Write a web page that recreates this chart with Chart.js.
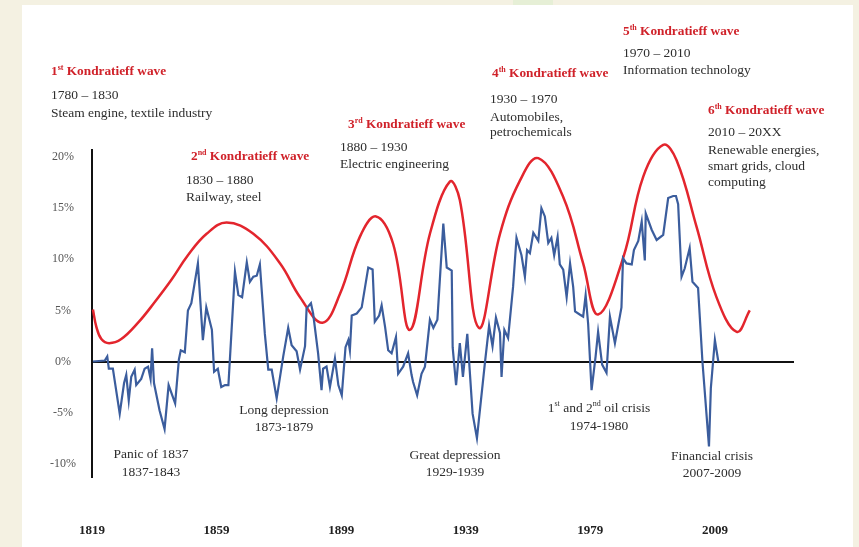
<!DOCTYPE html>
<html>
<head>
<meta charset="utf-8">
<script src="https://cdn.jsdelivr.net/npm/chart.js@4.4.1/dist/chart.umd.min.js"></script>
<style>
  html, body { margin: 0; padding: 0; background: #f4f1e2; }
  #wrap { position: relative; width: 859px; height: 547px; overflow: hidden; }
  #panel { position: absolute; left: 22px; top: 5px; width: 831px; height: 542px; background: #fff; }
  #tint { position: absolute; left: 513px; top: 0; width: 40px; height: 5px; background: #e6efd6; }
  #chart { position: absolute; left: 0; top: 0; }
</style>
</head>
<body>
<div id="wrap">
  <div id="panel"></div>
  <div id="tint"></div>
  <canvas id="chart" width="859" height="547"></canvas>
</div>
<script>
// growth rate (blue) - x positions follow the chart's own (evenly spaced) year axis
const growthYears = [1819.3,1823.1,1823.9,1824.4,1825.7,1827.9,1829.3,1830.0,1830.8,1831.6,
  1832.7,1833.2,1834.8,1835.9,1837.0,1837.8,1838.3,1838.9,1840.7,1842.3,
  1843.6,1845.7,1846.9,1847.5,1848.8,1849.8,1850.9,1853.0,1854.6,1855.7,
  1857.5,1858.2,1859.4,1860.5,1861.7,1862.8,1864.9,1866.0,1867.2,1868.7,
  1869.7,1870.8,1871.9,1872.9,1874.5,1875.6,1876.7,1878.3,1880.4,1882.0,
  1883.1,1884.7,1885.8,1887.4,1887.9,1889.3,1890.0,1891.6,1892.7,1893.2,
  1894.3,1895.4,1897.0,1898.1,1899.2,1900.4,1901.3,1901.8,1902.4,1904.0,
  1905.6,1907.7,1909.1,1909.8,1911.2,1912.0,1913.1,1914.1,1915.2,1916.6,
  1917.3,1918.9,1920.5,1921.6,1922.1,1923.4,1924.8,1925.9,1927.5,1928.6,
  1929.9,1931.8,1932.9,1934.5,1934.8,1935.9,1937.1,1938.1,1939.5,1941.2,
  1942.6,1945.2,1946.5,1947.6,1948.7,1950.0,1950.5,1951.4,1952.6,1954.2,
  1955.3,1956.9,1958.0,1958.7,1959.6,1960.7,1962.3,1963.3,1964.4,1965.5,
  1966.5,1967.4,1968.5,1969.2,1970.3,1971.4,1972.5,1973.5,1974.1,1975.6,
  1976.7,1977.5,1978.3,1979.4,1980.7,1981.5,1982.8,1984.2,1985.3,1986.9,
  1989.0,1989.5,1990.6,1992.3,1993.0,1994.4,1995.5,1996.5,1996.8,1998.7,
  2000.3,2002.4,2004.0,2005.6,2006.5,2007.2,2008.3,2009.3,2010.9,2011.8,
  2013.6,2015.0,2017.1,2017.7,2019.0,2020.1]
const growthValues = [0,0.1,0.5,-0.7,-0.7,-5.1,-2.1,-1.3,-3.8,-1.5,
  -0.8,-2.3,-1.7,-0.7,-0.5,-1.7,1.3,-2.1,-4.8,-6.6,
  -2.3,-4.1,0.2,1.1,0.9,5.0,5.7,9.6,2.1,5.3,
  3.1,-1.0,-0.7,-2.5,-2.3,-2.3,8.8,6.5,6.3,9.7,
  7.8,8.3,8.4,9.5,2.7,-0.8,-0.8,-3.6,0.5,3.3,
  1.6,1.0,-0.8,1.5,5.2,5.7,4.7,0.8,-2.8,-0.7,
  -0.5,-2.5,0.3,-2.3,-3.3,1.4,2.1,1.1,4.5,4.7,
  5.3,9.2,9.0,3.9,4.5,5.5,3.4,1.1,0.8,2.4,
  -1.2,-0.5,0.8,-1.3,-2.0,-3.3,-1.2,-0.5,4.1,3.3,
  4.1,13.5,9.2,8.9,1.4,-2.3,1.8,-1.5,2.7,-5.1,
  -7.5,0,3.5,1.5,4.3,2.8,-1.5,3.1,2.3,7.3,
  12.1,10.4,8.3,10.9,10.6,12.6,11.8,15.0,14.2,11.6,
  12.1,10.4,12.2,9.5,9.0,6.3,9.6,7.3,4.9,4.6,
  4.4,6.5,3.7,-2.8,0.5,2.9,-0.3,-1.1,4.4,1.8,
  5.3,10.1,9.6,9.5,10.9,11.8,13.7,9.9,14.5,12.9,
  11.9,12.4,16.0,16.2,16.2,15.4,8.3,9.1,11.1,7.8,
  7.2,0,-8.3,-2.6,2.1,0]

// Kondratieff wave (red)
const waveYears = [1819.3,1820.4,1822.0,1824.5,1828.4,1833.8,1839.1,1844.5,1849.8,1855.8,
  1862.2,1870.8,1879.4,1885.8,1893.0,1898.6,1905.0,1910.2,1915.7,1921.1,
  1927.5,1933.9,1937.1,1943.2,1950.0,1956.4,1962.3,1970.3,1976.7,1981.5,
  1989.6,1996.0,2002.4,2006.7,2013.1,2019.5,2026.0,2030.2]
const waveValues = [5.1,3.4,2.2,1.8,2.2,3.8,5.8,8.0,10.4,12.5,
  13.6,12.5,9.6,6.3,3.8,6.6,12.2,14.2,11.5,3.1,
  12.5,17.6,15.8,3.3,12.5,17.7,19.9,16.1,9.6,4.6,
  10.2,18.1,21.2,19.7,13.2,6.3,2.9,5.0]

const yTicks = [20, 15, 10, 5, 0, -5, -10]
const xTickYears = [1819, 1859, 1899, 1939, 1979, 2019]
const xTickLabels = ['1819', '1859', '1899', '1939', '1979', '2009']

// ^..^ marks superscript
const waveTitles = ['1^st^ Kondratieff wave', '2^nd^ Kondratieff wave', '3^rd^ Kondratieff wave',
  '4^th^ Kondratieff wave', '5^th^ Kondratieff wave', '6^th^ Kondratieff wave']
const waveTexts = [
  ['1780 – 1830', 'Steam engine, textile industry'],
  ['1830 – 1880', 'Railway, steel'],
  ['1880 – 1930', 'Electric engineering'],
  ['1930 – 1970', 'Automobiles,', 'petrochemicals'],
  ['1970 – 2010', 'Information technology'],
  ['2010 – 20XX', 'Renewable energies,', 'smart grids, cloud', 'computing']
]
const crisisTexts = [
  ['Panic of 1837', '1837-1843'],
  ['Long depression', '1873-1879'],
  ['Great depression', '1929-1939'],
  ['1^st^ and 2^nd^ oil crisis', '1974-1980'],
  ['Financial crisis', '2007-2009']
]

// where the texts sit on the page
const waveLayout = [
  { x: 51, ty: 72, lx: 51, ly: [95, 113] },
  { x: 191, ty: 157, lx: 186, ly: [180, 197] },
  { x: 348, ty: 125, lx: 340, ly: [147, 164] },
  { x: 492, ty: 74, lx: 490, ly: [99, 117, 132] },
  { x: 623, ty: 32, lx: 623, ly: [53, 70] },
  { x: 708, ty: 111, lx: 708, ly: [132, 150, 166, 182] }
]
const crisisLayout = [
  { x: 151, ly: [454, 472] },
  { x: 284, ly: [410, 427] },
  { x: 455, ly: [455, 472] },
  { x: 599, ly: [408, 426] },
  { x: 712, ly: [456, 473] }
]

const SERIF = '"Liberation Serif", "DejaVu Serif", serif'

function drawRich(ctx, text, x, y, size, bold, color, align) {
  let parts = text.split('^').map((t, i) => ({ t: t, sup: i % 2 == 1 }))
  let w = (bold ? 'bold ' : '')
  let total = 0
  parts.forEach(p => {
    ctx.font = w + (p.sup ? Math.round(size * 0.6) : size) + 'px ' + SERIF
    p.w = ctx.measureText(p.t).width
    total += p.w
  })
  let cx = align == 'center' ? x - total / 2 : x
  ctx.fillStyle = color
  ctx.textAlign = 'left'
  ctx.textBaseline = 'middle'
  parts.forEach(p => {
    ctx.font = w + (p.sup ? Math.round(size * 0.6) : size) + 'px ' + SERIF
    ctx.fillText(p.t, cx, p.sup ? y - 4 : y)
    cx += p.w
  })
}

const textPlugin = {
  id: 'texts',
  afterDraw(chart) {
    let ctx = chart.ctx
    ctx.save()
    waveTitles.forEach((t, i) => {
      let l = waveLayout[i]
      drawRich(ctx, t, l.x, l.ty, 13.3, true, '#d0222a', 'left')
      waveTexts[i].forEach((s, j) => drawRich(ctx, s, l.lx, l.ly[j], 13.5, false, '#2e2e2e', 'left'))
    })
    crisisTexts.forEach((lines, i) => {
      let l = crisisLayout[i]
      lines.forEach((s, j) => drawRich(ctx, s, l.x, l.ly[j], 13.5, false, '#2e2e2e', 'center'))
    })
    ctx.restore()
  }
}

new Chart(document.getElementById('chart'), {
  type: 'line',
  data: {
    datasets: [{
      label: 'Growth',
      data: growthYears.map((x, i) => ({ x: x, y: growthValues[i] })),
      borderColor: '#3b5d9d',
      borderWidth: 2.2,
      pointRadius: 0,
      tension: 0
    }, {
      label: 'Kondratieff wave',
      data: waveYears.map((x, i) => ({ x: x, y: waveValues[i] })),
      borderColor: '#e3252d',
      borderWidth: 2.5,
      pointRadius: 0,
      tension: 0.4,
      clip: false
    }]
  },
  options: {
    responsive: false,
    animation: false,
    layout: { padding: { left: 0, top: 150, right: 65, bottom: 0 } },
    plugins: { legend: { display: false }, tooltip: { enabled: false } },
    scales: {
      x: {
        type: 'linear', min: 1819, max: 2044.4,
        grid: { display: false },
        border: { display: false },
        afterBuildTicks: s => { s.ticks = xTickYears.map(v => ({ value: v })) },
        afterFit: s => { s.height = 70 },
        ticks: {
          padding: 38, maxRotation: 0, autoSkip: false,
          font: { family: SERIF, size: 13, weight: 'bold' }, color: '#222',
          callback: (v, i) => xTickLabels[i]
        }
      },
      y: {
        min: -11.3, max: 20.7,
        afterBuildTicks: s => { s.ticks = yTicks.map(v => ({ value: v })) },
        afterFit: s => { s.width = 92 },
        grid: {
          drawTicks: false, lineWidth: 2,
          color: c => (c.tick && c.tick.value === 0) ? '#111' : 'rgba(0,0,0,0)'
        },
        border: { display: true, color: '#111', width: 2 },
        ticks: {
          crossAlign: 'center', padding: 16,
          font: { family: SERIF, size: 12 }, color: '#555',
          callback: v => v + '%'
        }
      }
    }
  },
  plugins: [textPlugin]
})
</script>
</body>
</html>
